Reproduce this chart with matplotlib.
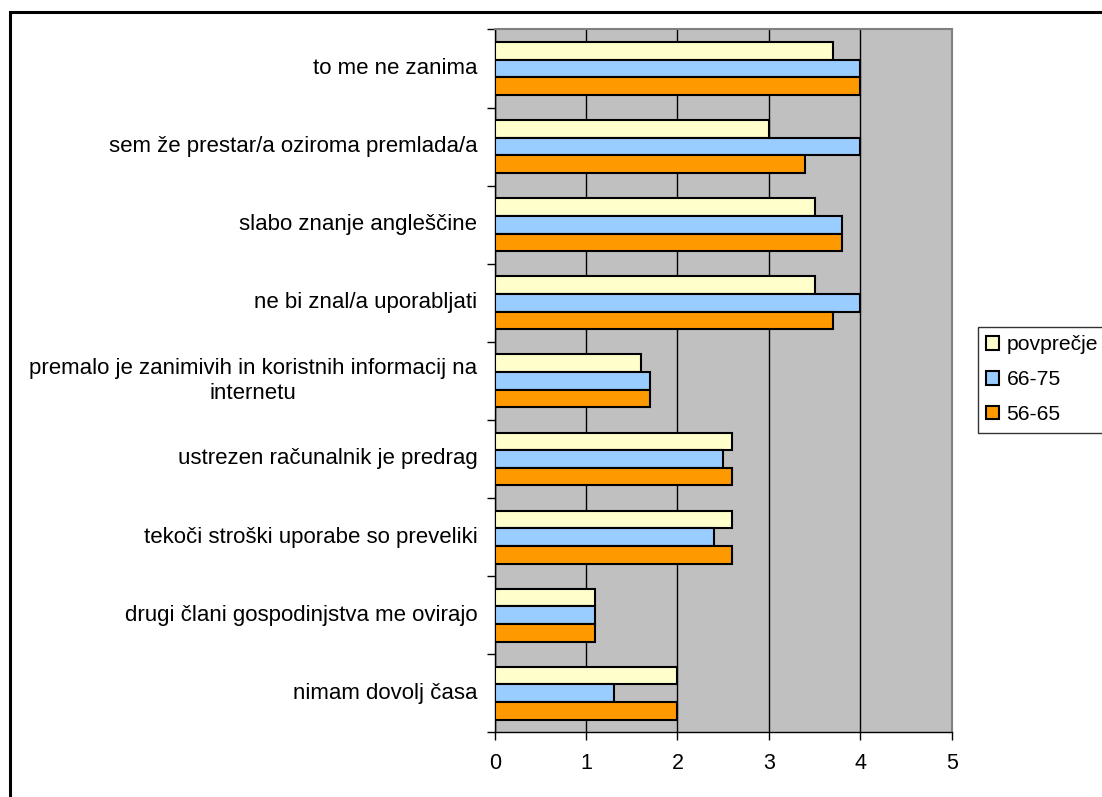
import matplotlib
matplotlib.use("Agg")
import matplotlib.pyplot as plt
import numpy as np
from matplotlib.patches import Rectangle

plt.rcParams['font.family'] = ['Liberation Sans', 'DejaVu Sans']

# categories from top to bottom
categories = [
    "to me ne zanima",
    "sem že prestar/a oziroma premlada/a",
    "slabo znanje angleščine",
    "ne bi znal/a uporabljati",
    "premalo je zanimivih in koristnih informacij na\ninternetu",
    "ustrezen računalnik je predrag",
    "tekoči stroški uporabe so preveliki",
    "drugi člani gospodinjstva me ovirajo",
    "nimam dovolj časa",
]
povprecje = [3.7, 3.0, 3.5, 3.5, 1.6, 2.6, 2.6, 1.1, 2.0]
age_66_75 = [4.0, 4.0, 3.8, 4.0, 1.7, 2.5, 2.4, 1.1, 1.3]
age_56_65 = [4.0, 3.4, 3.8, 3.7, 1.7, 2.6, 2.6, 1.1, 2.0]

series = [("povprečje", povprecje, "#FFFFCC"),
          ("66-75", age_66_75, "#99CCFF"),
          ("56-65", age_56_65, "#FF9900")]

fig = plt.figure(figsize=(11.02, 7.97), dpi=100)
ax = fig.add_axes([0.4489, 0.0812, 0.4147, 0.8818])
ax.set_facecolor("#C0C0C0")

y = np.arange(len(categories))
h = 0.226
for k, (name, vals, col) in enumerate(series):
    ax.barh(y + (k - 1) * h, vals, height=h, color=col, edgecolor="black",
            linewidth=1.5, label=name, zorder=3)

ax.set_xlim(0, 5)
ax.set_ylim(len(categories) - 0.5, -0.5)
ax.set_xticks(range(6))
ax.tick_params(axis="x", labelsize=15.5, direction="out", length=6, width=1, pad=9)

# category labels between tick marks
ax.set_yticks(np.arange(len(categories) + 1) - 0.5)
ax.set_yticklabels([])
ax.tick_params(axis="y", direction="out", length=6, width=1, color="black")
for i, lab in enumerate(categories):
    ax.text(-0.19, i, lab, ha="right", va="center", multialignment="center",
            fontsize=16, linespacing=1.25)

ax.xaxis.grid(True, color="black", linewidth=1)
ax.set_axisbelow(True)
for s in ["top", "right"]:
    ax.spines[s].set_color("#808080")
    ax.spines[s].set_linewidth(1.5)
for s in ["left", "bottom"]:
    ax.spines[s].set_color("black")
    ax.spines[s].set_linewidth(1)

leg = ax.legend(loc="upper left", bbox_to_anchor=(978 / 1102, (797 - 327) / 797),
                bbox_transform=fig.transFigure, fontsize=15.2, frameon=True,
                fancybox=False, edgecolor="black", handlelength=0.6,
                handleheight=0.6, handletextpad=0.35, borderpad=0.4,
                labelspacing=0.75, borderaxespad=0)
leg.get_frame().set_linewidth(1)

# outer chart border
fig.patches.append(Rectangle((10 / 1102, -0.05), 1.2, (797 - 12) / 797 + 0.05,
                             transform=fig.transFigure, fill=False,
                             edgecolor="black", linewidth=2.2))

fig.savefig("out.png", dpi=100)
